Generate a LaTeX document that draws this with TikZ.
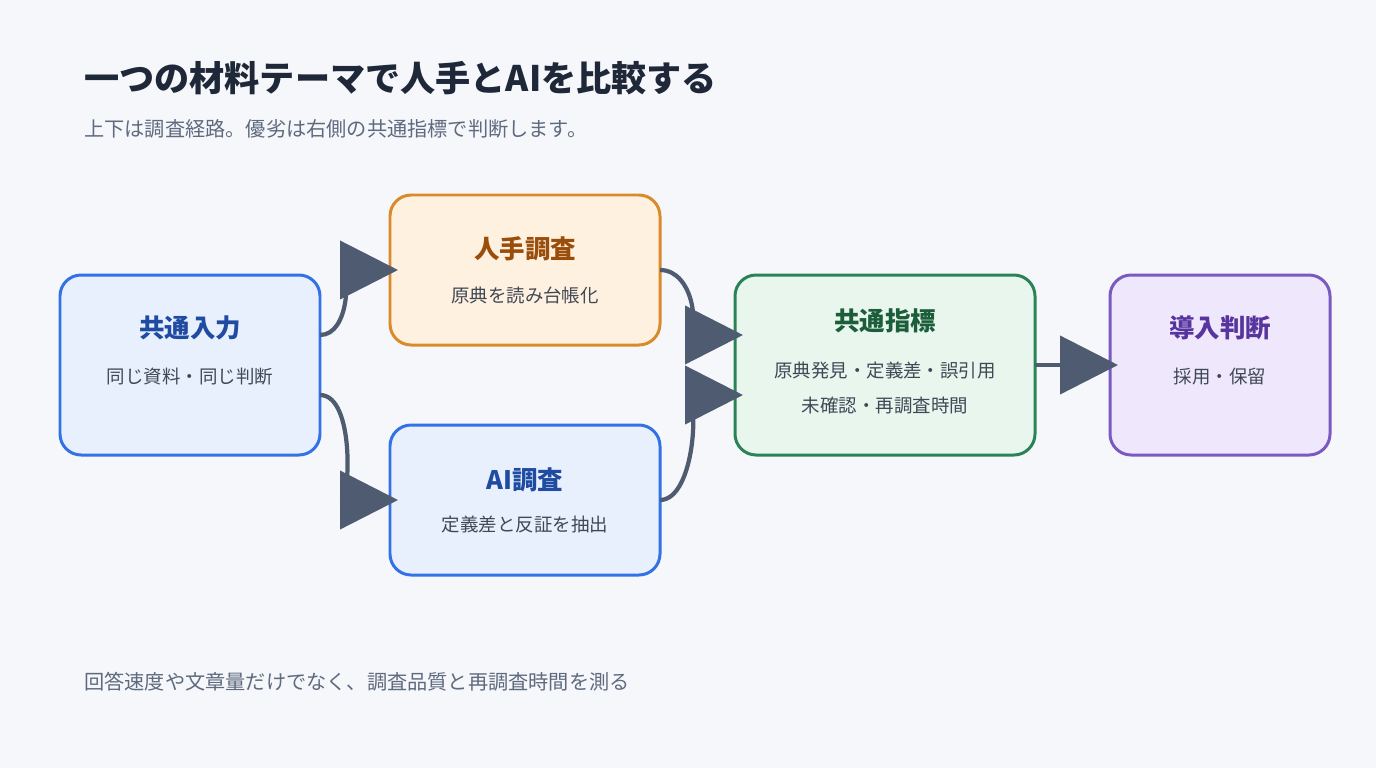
\documentclass[tikz,border=0pt]{standalone}
\usepackage{fontspec}
\setmainfont{Noto Sans CJK JP}
\usetikzlibrary{arrows.meta,positioning}
\definecolor{bgc}{HTML}{F5F7FB}
\definecolor{ink}{HTML}{1E2838}
\definecolor{grayt}{HTML}{5E6A7E}
\definecolor{arr}{HTML}{4F5B70}
\definecolor{bluef}{HTML}{E8F0FE}\definecolor{blued}{HTML}{3371E6}\definecolor{bluet}{HTML}{1F4BA0}
\definecolor{orf}{HTML}{FFF1E0}\definecolor{ord}{HTML}{D98A2B}\definecolor{ort}{HTML}{9A4E0C}
\definecolor{grf}{HTML}{E8F6EE}\definecolor{grd}{HTML}{2A8357}\definecolor{grt}{HTML}{1C5E3A}
\definecolor{puf}{HTML}{EFE8FD}\definecolor{pud}{HTML}{7A5AC0}\definecolor{put}{HTML}{57349E}
\tikzset{
  box/.style={draw, line width=1.7pt, rounded corners=12pt},
  ttl/.style={font=\bfseries\fontsize{14.5}{16}\selectfont},
  sub/.style={font=\fontsize{10.5}{13}\selectfont, text=ink!85},
  flow/.style={arr, line width=2.4pt, -{Triangle[length=33pt,width=33pt]}}
}
\begin{document}
\begin{tikzpicture}[x=0.02cm,y=-0.02cm]
  \fill[bgc] (0,0) rectangle (1376,768);
  \node[anchor=west, text=ink, font=\bfseries\fontsize{20}{24}\selectfont] (title) at (78,78) {一つの材料テーマで人手とAIを比較する};
  \node[anchor=west, text=grayt, font=\fontsize{11.5}{14}\selectfont] (lead) at (78,129) {上下は調査経路。優劣は右側の共通指標で判断します。};
  \node[anchor=west, text=grayt, font=\fontsize{11.5}{14}\selectfont] (foot) at (78,682) {回答速度や文章量だけでなく、調査品質と再調査時間を測る};

  % boxes
  \draw[box, blued, fill=bluef] (60,275) rectangle (320,455);
  \draw[box, ord, fill=orf] (390,195) rectangle (660,345);
  \draw[box, blued, fill=bluef] (390,425) rectangle (660,575);
  \draw[box, grd, fill=grf] (735,275) rectangle (1035,455);
  \draw[box, pud, fill=puf] (1110,275) rectangle (1330,455);

  \node[ttl, text=bluet] (inT) at (190,328) {共通入力};
  \node[sub] (inS) at (190,377) {同じ資料・同じ判断};
  \node[ttl, text=ort] (huT) at (525,249) {人手調査};
  \node[sub] (huS) at (525,295) {原典を読み台帳化};
  \node[ttl, text=bluet] (aiT) at (525,480) {AI調査};
  \node[sub] (aiS) at (525,525) {定義差と反証を抽出};
  \node[ttl, text=grt] (mtT) at (885,321) {共通指標};
  \node[sub] (mtS) at (885,370) {原典発見・定義差・誤引用};
  \node[sub] (mtS2) at (885,406) {未確認・再調査時間};
  \node[ttl, text=put] (dcT) at (1220,328) {導入判断};
  \node[sub] (dcS) at (1220,377) {採用・保留};

  % connectors
  \coordinate (a1) at (320,335); \coordinate (a2) at (398,270);
  \coordinate (b1) at (320,395); \coordinate (b2) at (398,500);
  \coordinate (c1) at (660,270); \coordinate (c2) at (743,335);
  \coordinate (d1) at (660,500); \coordinate (d2) at (743,395);
  \coordinate (e1) at (1035,365); \coordinate (e2) at (1118,365);
  \draw[flow] (a1) .. controls (350,335) and (350,270) .. (a2);
  \draw[flow] (b1) .. controls (355,395) and (350,500) .. (b2);
  \draw[flow] (c1) .. controls (695,270) and (700,335) .. (c2);
  \draw[flow] (d1) .. controls (695,500) and (700,395) .. (d2);
  \draw[flow] (e1) -- (e2);
\end{tikzpicture}
\end{document}
